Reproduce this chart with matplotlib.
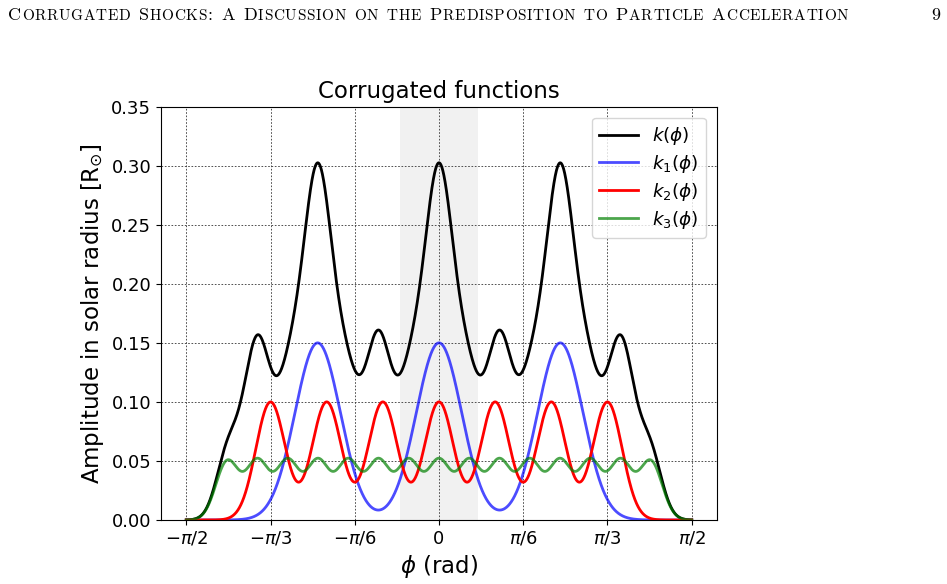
import numpy as np
import matplotlib
matplotlib.use("Agg")
import matplotlib.pyplot as plt

# ---------------- data ----------------
# x ticks
phi_ticks = [-np.pi / 2, -np.pi / 3, -np.pi / 6, 0.0, np.pi / 6, np.pi / 3, np.pi / 2]
phi_tick_labels = [r"$-\pi/2$", r"$-\pi/3$", r"$-\pi/6$", "0", r"$\pi/6$", r"$\pi/3$", r"$\pi/2$"]
y_ticks = [0.00, 0.05, 0.10, 0.15, 0.20, 0.25, 0.30, 0.35]

# k1: bumps (positions in rad) and bump height / width
k1_centers = [-0.754, 0.0, 0.754]
k1_height = 0.150
k1_width = 0.141

# k2: bumps
k2_centers = [-1.047, -0.698, -0.349, 0.0, 0.349, 0.698, 1.047]
k2_height = 0.0999
k2_width = 0.0912

# k3: bumps
k3_centers = [-1.316, -1.128, -0.940, -0.752, -0.564, -0.376, -0.188, 0.0,
              0.188, 0.376, 0.564, 0.752, 0.940, 1.128, 1.316]
k3_height = 0.0494
k3_width = 0.0710

# k: k1 + k3 + a middle-scale bump train
k_mid_centers = [-1.131, -0.754, -0.377, 0.0, 0.377, 0.754, 1.131]
k_mid_height = 0.100
k_mid_width = 0.0985

# shaded band
band = [-0.24, 0.24]

# ---------------- figure ----------------
W, H = 947, 584
fig = plt.figure(figsize=(W / 100, H / 100), dpi=100)
ax = fig.add_axes([161 / W, 1 - 520 / H, (717 - 161) / W, (520 - 106.7) / H])

phi = np.linspace(-np.pi / 2, np.pi / 2, 3001)


def bump_train(centers, height, width):
    c = np.asarray(centers)[None, :]
    return height * np.exp(-(phi[:, None] - c) ** 2 / (2 * width ** 2)).sum(axis=1)


k1 = bump_train(k1_centers, k1_height, k1_width)
k2 = bump_train(k2_centers, k2_height, k2_width)
k3 = bump_train(k3_centers, k3_height, k3_width)
k = k1 + k3 + bump_train(k_mid_centers, k_mid_height, k_mid_width)

ax.axvspan(band[0], band[1], color="lightgray", alpha=0.3, lw=0, zorder=0)
ax.plot(phi, k, color="k", lw=2, label=r"$k(\phi)$")
ax.plot(phi, k1, color="b", alpha=0.7, lw=2, label=r"$k_1(\phi)$")
ax.plot(phi, k2, color="r", lw=2, label=r"$k_2(\phi)$")
ax.plot(phi, k3, color="g", alpha=0.7, lw=2, label=r"$k_3(\phi)$")

ax.set_xlim(-1.1 * np.pi / 2, 1.1 * np.pi / 2)
ax.set_ylim(0, 0.35)
ax.set_xticks(phi_ticks)
ax.set_xticklabels(phi_tick_labels)
ax.set_yticks(y_ticks)
ax.set_yticklabels([f"{v:.2f}" for v in y_ticks])
ax.tick_params(labelsize=13)
ax.grid(True, color="0.2", ls=(0, (2, 2)), lw=0.6)
ax.set_axisbelow(True)

ax.set_title("Corrugated functions", fontsize=16.5)
ax.set_xlabel(r"$\phi$ (rad)", fontsize=16.5)
ax.set_ylabel(r"Amplitude in solar radius [R$_{\odot}$]", fontsize=16.5)
ax.legend(loc="upper right", fontsize=13.2, labelspacing=0.32,
          handlelength=2.1, borderaxespad=0.6)

# ---------------- running header (small caps) ----------------
header = "Corrugated Shocks: A Discussion on the Predisposition to Particle Acceleration"
big, small = 13.0, 11.0
fam = "cmr10"
renderer = fig.canvas.get_renderer()
base = 1 - 19.5 / H
x_start, x_end = 8.0, 848.0
space_px = 8.0

items = []  # (text artist or None for a space, width)
for ch in header:
    if ch == " ":
        items.append((None, space_px))
        continue
    is_small = ch.islower()
    t = fig.text(0, base, ch.upper(), fontsize=small if is_small else big,
                 family=fam, ha="left", va="baseline")
    w = t.get_window_extent(renderer=renderer).width
    items.append((t, w))

n_chars = sum(1 for t, _ in items if t is not None)
natural = sum(w for _, w in items)
track = (x_end - x_start - natural) / max(n_chars - 1, 1)
x = x_start
for t, w in items:
    if t is None:
        x += w
    else:
        t.set_x(x / W)
        x += w + track

fig.text(940 / W, base, "9", fontsize=big, family=fam, ha="right", va="baseline")

fig.savefig("out.png", dpi=100)
